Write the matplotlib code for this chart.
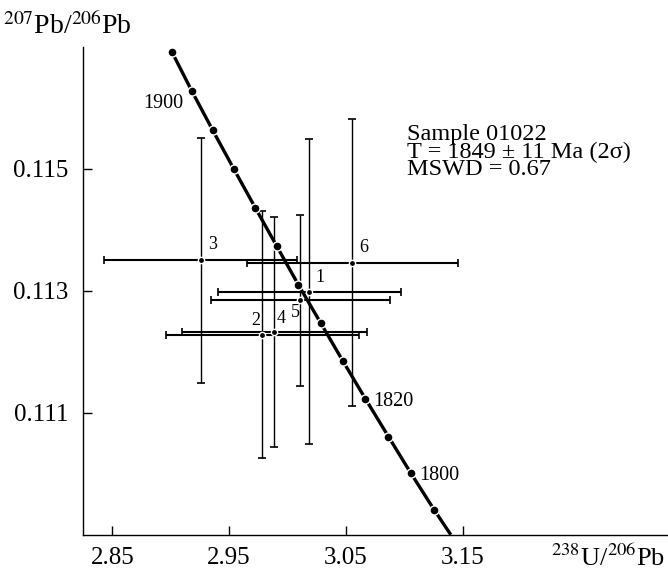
import numpy as np
import matplotlib.pyplot as plt

plt.rcParams['font.family'] = ['Liberation Serif', 'DejaVu Serif']
plt.rcParams['mathtext.fontset'] = 'stix'

# concordia ages (Ma) and their coordinates
ages = [1910, 1900, 1890, 1880, 1870, 1860, 1850, 1840, 1830, 1820, 1810, 1800, 1790]
conc_x = [2.9009, 2.9182, 2.9360, 2.9542, 2.9724, 2.9908, 3.0092, 3.0284, 3.0473,
          3.0666, 3.0863, 3.1055, 3.1254]
conc_y = [0.11692, 0.11627, 0.11563, 0.11499, 0.11436, 0.11373, 0.11310, 0.11247,
          0.11185, 0.11123, 0.11061, 0.11001, 0.10941]
# where the curve leaves the plot at the bottom
conc_end_x = 3.1397
conc_end_y = 0.1090
labelled_ages = [1900, 1820, 1800]

# analyses
pt_labels = ['1', '2', '3', '4', '5', '6']
pt_x = [3.0187, 2.9782, 2.9259, 2.9887, 3.0110, 3.0555]
pt_y = [0.11298, 0.11228, 0.11350, 0.11232, 0.11284, 0.11346]
pt_sx = [0.0786, 0.0826, 0.0826, 0.0792, 0.0767, 0.0902]
pt_sy = [0.00250, 0.00203, 0.00201, 0.00189, 0.00140, 0.00235]

x_ticks = [2.85, 2.95, 3.05, 3.15]
y_ticks = [0.111, 0.113, 0.115]

info = 'Sample 01022\nT = 1849 \u00b1 11 Ma (2\u03c3)\nMSWD = 0.67'

fig = plt.figure(figsize=(6.68, 5.70), dpi=100)
ax = fig.add_axes([0.1238, 0.0619, 0.8762, 0.8561])

# error crosses
ax.errorbar(pt_x, pt_y, xerr=pt_sx, fmt='none', ecolor='black', elinewidth=1.5,
            capsize=2.9, capthick=1.2, zorder=2)
ax.errorbar(pt_x, pt_y, yerr=pt_sy, fmt='none', ecolor='black', elinewidth=1.0,
            capsize=2.9, capthick=1.2, zorder=2)
ax.plot(pt_x, pt_y, 'o', color='black', ms=4.5, mec='white', mew=1.0, zorder=3)

# point numbers
lab_off = {'1': (4, 4), '2': (-8, 4), '3': (5, 5), '4': (2, 4), '5': (-7, -15), '6': (5, 5)}
for lab, x, y in zip(pt_labels, pt_x, pt_y):
    dx, dy = lab_off[lab]
    ax.annotate(lab, (x, y), xytext=(dx, dy), textcoords='offset points',
                fontsize=13, ha='left', va='bottom')

# concordia
ax.plot(conc_x + [conc_end_x], conc_y + [conc_end_y], '-', color='black', lw=2.4,
        zorder=4, solid_capstyle='butt')
ax.plot(conc_x, conc_y, 'o', color='black', ms=6.5, mec='white', mew=1.0, zorder=5)
age_off = {1900: (-6, -9, 'right'), 1820: (6, -2, 'left'), 1800: (6, -2, 'left')}
for a in labelled_ages:
    i = ages.index(a)
    dx, dy, ha = age_off[a]
    ax.annotate(str(a), (conc_x[i], conc_y[i]), xytext=(dx, dy), textcoords='offset points',
                fontsize=14.5, ha=ha, va='center')

ax.text(3.102, 0.11489, info, fontsize=17.5, va='baseline', ha='left',
        linespacing=0.8)

ax.set_xlim(2.8247, 3.3256)
ax.set_ylim(0.109, 0.117)
ax.set_xticks(x_ticks)
ax.set_xticklabels([f'{v:.2f}' for v in x_ticks])
ax.set_yticks(y_ticks)
ax.set_yticklabels([f'{v:.3f}' for v in y_ticks])
ax.tick_params(direction='in', length=6.5, width=1, labelsize=18)
ax.tick_params(axis='x', pad=8.5)
ax.tick_params(axis='y', pad=10)
ax.spines['top'].set_visible(False)
ax.spines['right'].set_visible(False)
for s in ('left', 'bottom'):
    ax.spines[s].set_linewidth(1.0)

fig.text(0.004, 0.94, r'$^{207}$Pb/$^{206}$Pb', fontsize=20, ha='left', va='baseline')
fig.text(0.996, 0.007, r'$^{238}$U/$^{206}$Pb', fontsize=19, ha='right', va='baseline')

fig.savefig('out.png', dpi=100)
